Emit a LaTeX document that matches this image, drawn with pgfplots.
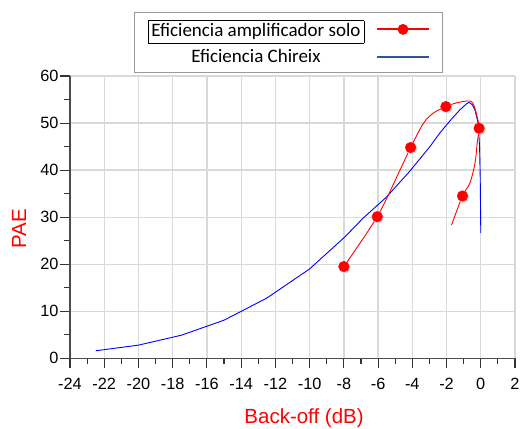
\documentclass[border=0pt]{standalone}
\usepackage{fontspec}
\setmainfont{Liberation Sans}
\newfontfamily\calibri{Carlito}
\usepackage{pgfplots}
\pgfplotsset{compat=1.18}
\definecolor{legblue}{RGB}{47,85,151}
\begin{document}
\begin{tikzpicture}
\useasboundingbox (-70pt,-69.7pt) rectangle (451pt,358.3pt);
\begin{axis}[
 scale only axis, width=445pt, height=282.3pt,
 xmin=-24, xmax=2, ymin=0, ymax=60,
 axis lines=left, axis line style={-, draw=black!70, line width=1.2pt},
 xtick={-24,-22,...,2}, ytick={0,10,...,60},
 minor x tick num=1, minor y tick num=1,
 tick align=outside, major tick length=10pt, minor tick length=6pt,
 tick style={black!80, line width=1.1pt},
 grid=major, major grid style={gray!30, line width=1.3pt},
 ticklabel style={font=\fontsize{16.3}{18}\selectfont},
 xticklabel style={yshift=-6pt},
 yticklabel style={xshift=2pt},
 /pgf/number format/assume math mode=true,
 xlabel={Back-off (dB)}, ylabel={PAE},
 label style={font=\fontsize{20.5}{24}\selectfont, text=red},
 xlabel style={at={(axis description cs:0.526,-0.230)}, anchor=base},
 ylabel style={at={(axis description cs:-0.1146,0.458)}, anchor=center},
 legend plot pos=right,
 legend cell align=center,
 legend style={at={(axis description cs:0.49,1.227)}, anchor=north,
   draw=gray!80, fill=white, line width=0.8pt,
   font=\calibri\fontsize{19}{22}\selectfont,
   cells={anchor=center}, inner xsep=12pt, inner ysep=6pt,
   column sep=10pt, row sep=7pt},
]
\addlegendimage{legend image code/.code={\draw[red,line width=2.2pt] (0pt,0pt)--(52pt,0pt); \fill[red] (26pt,0pt) circle (5pt);}}
\addlegendentry{\fbox{Eficiencia amplificador solo}}
\addlegendimage{legend image code/.code={\draw[legblue,line width=2.2pt] (0pt,0pt)--(52pt,0pt);}}
\addlegendentry{Eficiencia Chireix}

\addplot[blue, line width=0.9pt, forget plot] coordinates {
(-22.5,1.6) (-20,2.8) (-17.5,4.9) (-15,8.1) (-12.5,12.8) (-10,19.0)
(-7.94,25.8) (-6.87,29.8) (-5.5,34.3) (-4.14,39.8) (-2.97,45.0)
(-2.39,47.9) (-1.7,50.9) (-1.22,52.8) (-0.83,54.1) (-0.68,54.4) (-0.5,53.9)
(-0.34,52.8) (-0.15,49.9) (-0.07,45.0) (-0.03,38.0) (0,26.6)};

\addplot[red, line width=0.9pt, smooth, tension=0.5, forget plot] coordinates {
(-8,19.5) (-6.05,30.1) (-4.72,40.0) (-4.1,44.8) (-3.36,49.9) (-2.78,52.1)
(-2.04,53.5) (-1.41,54.3) (-0.74,54.7) (-0.45,54.2) (-0.21,51.3) (-0.1,48.9)
(-0.21,45.7) (-0.34,41.4) (-0.64,37.2) (-1.07,34.5) (-1.71,28.3)};

\addplot[only marks, mark=*, mark size=5.3pt, gray!35, mark options={xshift=1.2pt, yshift=-1.2pt}, forget plot] coordinates {
(-8,19.5) (-6.05,30.1) (-4.1,44.8) (-2.04,53.5) (-0.1,48.9) (-1.07,34.5)};
\addplot[only marks, mark=*, mark size=5.3pt, red, forget plot] coordinates {
(-8,19.5) (-6.05,30.1) (-4.1,44.8) (-2.04,53.5) (-0.1,48.9) (-1.07,34.5)};
\end{axis}
\end{tikzpicture}
\end{document}
